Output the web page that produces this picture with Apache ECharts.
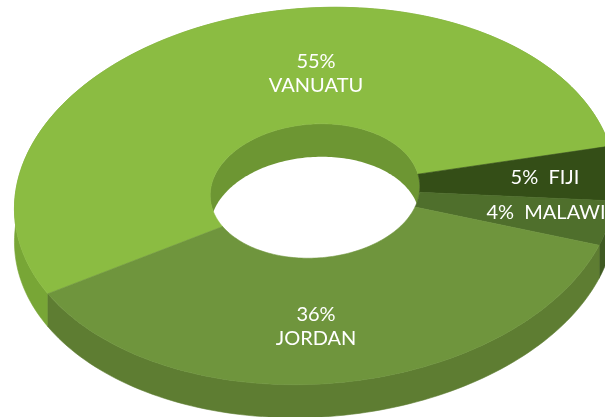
<!DOCTYPE html>
<html>
<head>
<meta charset="utf-8">
<style>
  html, body { margin: 0; padding: 0; background: #fff; }
  #chart { width: 605px; height: 417px; }
</style>
</head>
<body>
<div id="chart"></div>
<script src="https://cdn.jsdelivr.net/npm/echarts@6/dist/echarts.min.js"></script>
<script>
const names = ['VANUATU', 'FIJI', 'MALAWI', 'JORDAN']
const shares = [55, 5, 4, 36]
const labels = ['55%\nVANUATU', '5%  FIJI', '4%  MALAWI', '36%\nJORDAN']

const topColors = ['#8bbc42', '#344e17', '#4f6f2c', '#6f953d']
const wallColors = ['#78a636', '#2a4012', '#3f5a22', '#5e7d32']
const labelSpots = [[316, 74], [545, 178], [546, 213], [316, 327]]

// the disc is seen in perspective: tilted ellipse plus a hub that sits off centre
const outer = { cx: 315, cy: 196, rx: 301, ry: 188 }
const hole = { cx: 315, cy: 191, rx: 105, ry: 67 }
const tilt = -4 * Math.PI / 180
const depth = 33
const hub = [323, 188]
const skew = 0.04
const skewDir = -30 * Math.PI / 180
const startAngle = 154.8 * Math.PI / 180

function onEllipse(e, t) {
  const x = e.rx * Math.cos(t)
  const y = e.ry * Math.sin(t)
  return [e.cx + x * Math.cos(tilt) - y * Math.sin(tilt), e.cy + x * Math.sin(tilt) + y * Math.cos(tilt)]
}

// circle point moved by the perspective shift
function shifted(t) {
  const ax = skew * Math.cos(skewDir)
  const ay = skew * Math.sin(skewDir)
  const c = Math.cos(t)
  const s = Math.sin(t)
  const nx = c + ax
  const ny = s + ay
  const dx = 1 + ax * c + ay * s
  const dy = ax * s - ay * c
  return Math.atan2(ny * dx - nx * dy, nx * dx + ny * dy)
}

// where the ray hub -> p crosses the hole ellipse, as an ellipse parameter
function holeParam(p) {
  const toLocal = (q) => {
    const x = q[0] - hole.cx
    const y = q[1] - hole.cy
    return [(x * Math.cos(tilt) + y * Math.sin(tilt)) / hole.rx, (-x * Math.sin(tilt) + y * Math.cos(tilt)) / hole.ry]
  }
  const a = toLocal(hub)
  const b = toLocal(p)
  const d = [b[0] - a[0], b[1] - a[1]]
  const qa = d[0] * d[0] + d[1] * d[1]
  const qb = 2 * (a[0] * d[0] + a[1] * d[1])
  const qc = a[0] * a[0] + a[1] * a[1] - 1
  const k = (-qb + Math.sqrt(qb * qb - 4 * qa * qc)) / (2 * qa)
  return Math.atan2(a[1] + d[1] * k, a[0] + d[0] * k)
}

function sample(e, from, to, dy) {
  let end = to
  while (end < from) end += Math.PI * 2
  const steps = Math.max(2, Math.ceil((end - from) * 40))
  const pts = []
  for (let i = 0; i <= steps; i++) {
    const p = onEllipse(e, from + (end - from) * i / steps)
    pts.push([p[0], p[1] + (dy || 0)])
  }
  return pts
}

const total = shares.reduce((a, b) => a + b, 0)
let running = startAngle
const bounds = shares.map((v) => {
  const from = running
  running += v / total * Math.PI * 2
  return [shifted(from), shifted(running)]
})

const chart = echarts.init(document.getElementById('chart'), null, { renderer: 'canvas' })

function slicePolygon(points, color) {
  return {
    type: 'polygon',
    shape: { points },
    style: { fill: color, stroke: color, lineWidth: 0.6 }
  }
}

chart.setOption({
  animation: false,
  series: [
    {
      type: 'custom',
      coordinateSystem: 'none',
      silent: true,
      z: 1,
      data: shares,
      renderItem(params) {
        const [a, b] = bounds[params.dataIndex]
        const edge = sample(outer, a, b)
        const lower = sample(outer, a, b, depth).reverse()
        return slicePolygon(edge.concat(lower), wallColors[params.dataIndex])
      }
    },
    {
      // inner wall of the hole, then the see-through part
      type: 'custom',
      coordinateSystem: 'none',
      silent: true,
      z: 2,
      data: [0],
      renderItem() {
        return {
          type: 'group',
          children: [
            slicePolygon(sample(hole, 0, Math.PI * 2), '#6d9633'),
            {
              type: 'polygon',
              shape: { points: sample(hole, 0, Math.PI * 2, depth) },
              style: { fill: '#ffffff' }
            }
          ]
        }
      }
    },
    {
      type: 'custom',
      coordinateSystem: 'none',
      silent: true,
      z: 3,
      data: shares,
      renderItem(params) {
        const [a, b] = bounds[params.dataIndex]
        const edge = sample(outer, a, b)
        const ia = holeParam(edge[0])
        const ib = holeParam(edge[edge.length - 1])
        const inner = sample(hole, ia, ib).reverse()
        return slicePolygon(edge.concat(inner), topColors[params.dataIndex])
      }
    },
    {
      type: 'custom',
      coordinateSystem: 'none',
      silent: true,
      z: 4,
      data: names,
      renderItem(params) {
        const spot = labelSpots[params.dataIndex]
        return {
          type: 'text',
          x: spot[0],
          y: spot[1],
          style: {
            text: labels[params.dataIndex],
            fill: '#ffffff',
            font: '20px Lato',
            lineHeight: 24,
            align: 'center',
            verticalAlign: 'middle'
          }
        }
      }
    }
  ]
})
</script>
</body>
</html>
